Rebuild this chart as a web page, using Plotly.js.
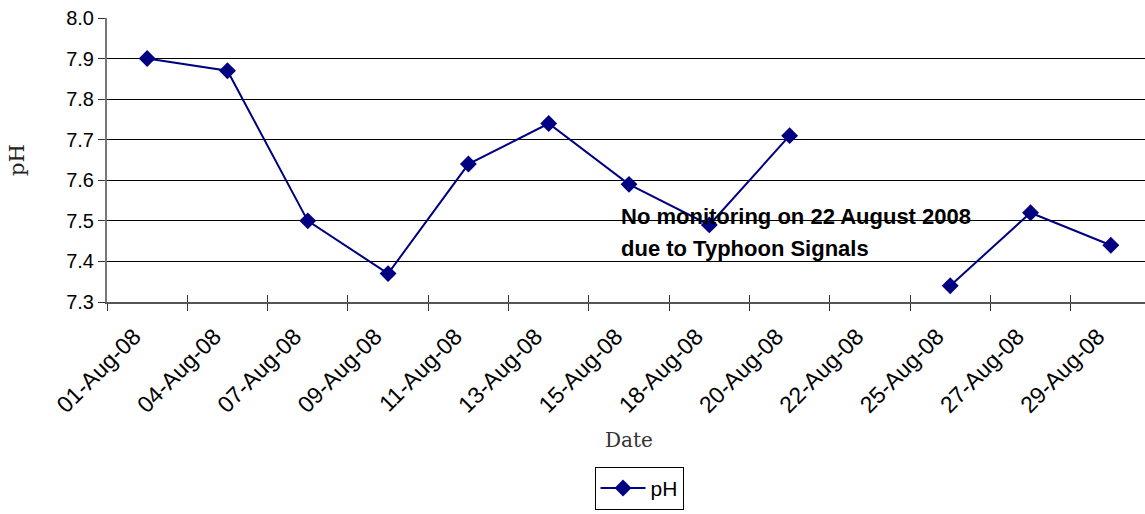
<!DOCTYPE html>
<html>
<head>
<meta charset="utf-8">
<script src="https://cdn.plot.ly/plotly-3.0.1.min.js"></script>
<style>
html,body{margin:0;padding:0;overflow:hidden;background:#fff;}
#chart{width:1155px;height:514px;}
</style>
</head>
<body>
<div id="chart"></div>
<script>
const dates = ["01-Aug-08","04-Aug-08","07-Aug-08","09-Aug-08","11-Aug-08","13-Aug-08","15-Aug-08","18-Aug-08","20-Aug-08","22-Aug-08","25-Aug-08","27-Aug-08","29-Aug-08"];
const phValues = [7.90, 7.87, 7.50, 7.37, 7.64, 7.74, 7.59, 7.49, 7.71, null, 7.34, 7.52, 7.44];
const yTicks = [7.3, 7.4, 7.5, 7.6, 7.7, 7.8, 7.9, 8.0];
const yTickText = ["7.3","7.4","7.5","7.6","7.7","7.8","7.9","8.0"];
const noteLines = ["No monitoring on 22 August 2008", "due to Typhoon Signals"];

const navy = "#000080";
const sans = "Liberation Sans, Arial, sans-serif";
const serif = "DejaVu Serif, Liberation Serif, serif";

const traces = [
  {
    x: dates, y: phValues, name: "pH", type: "scatter", mode: "lines+markers",
    connectgaps: false,
    line: {color: navy, width: 2},
    marker: {symbol: "diamond", size: 13, color: navy},
    hoverinfo: "x+y"
  },
  {
    x: dates, y: phValues, xaxis: "x2", yaxis: "y", type: "scatter", mode: "none",
    showlegend: false, hoverinfo: "skip"
  }
];

const layout = {
  width: 1155, height: 514,
  margin: {l: 107, r: 4, t: 18, b: 208},
  paper_bgcolor: "#fff", plot_bgcolor: "#fff",
  showlegend: true,
  font: {family: sans, color: "#000", size: 20},
  xaxis: {
    type: "category",
    categoryorder: "array", categoryarray: dates,
    range: [-0.5, 12.5],
    tickson: "boundaries",
    ticks: "outside", ticklen: 7, tickcolor: "#333", tickwidth: 1,
    tickangle: -45,
    ticklabelstandoff: 10,
    ticklabelshift: -13,
    tickfont: {family: sans, size: 23, color: "#000"},
    showline: true, linecolor: "#555", linewidth: 2,
    showgrid: false, zeroline: false,
    title: {text: "Date", font: {family: serif, size: 20, color: "#333"}, standoff: 16}
  },
  xaxis2: {
    type: "category", overlaying: "x", matches: "x", side: "bottom",
    categoryorder: "array", categoryarray: dates,
    tickson: "boundaries",
    ticks: "inside", ticklen: 7, tickcolor: "#333", tickwidth: 1,
    showticklabels: false, showline: false, showgrid: false, zeroline: false
  },
  yaxis: {
    range: [7.3, 8.0],
    tickmode: "array", tickvals: yTicks, ticktext: yTickText,
    ticks: "outside", ticklen: 7, tickcolor: "#333",
    tickfont: {family: sans, size: 20, color: "#000"},
    showline: true, linecolor: "#777", linewidth: 2,
    showgrid: true, gridcolor: "#000", gridwidth: 1,
    zeroline: false,
    title: {text: "pH", font: {family: serif, size: 21, color: "#222"}, standoff: 36}
  },
  legend: {
    orientation: "h",
    x: 0.5096, xanchor: "center",
    y: -0.656, yanchor: "middle",
    itemwidth: 45,
    bordercolor: "#000", borderwidth: 1, bgcolor: "#fff",
    font: {family: sans, size: 21, color: "#000"}
  },
  annotations: [
    {xref: "paper", yref: "y", x: 0.490, y: 7.547, xanchor: "left", yanchor: "top",
     text: "<b>" + noteLines[0] + "</b>", showarrow: false,
     font: {family: sans, size: 22, color: "#000"}},
    {xref: "paper", yref: "y", x: 0.490, y: 7.467, xanchor: "left", yanchor: "top",
     text: "<b>" + noteLines[1] + "</b>", showarrow: false,
     font: {family: sans, size: 22, color: "#000"}}
  ]
};

Plotly.newPlot("chart", traces, layout, {displayModeBar: false, staticPlot: true});
</script>
</body>
</html>
